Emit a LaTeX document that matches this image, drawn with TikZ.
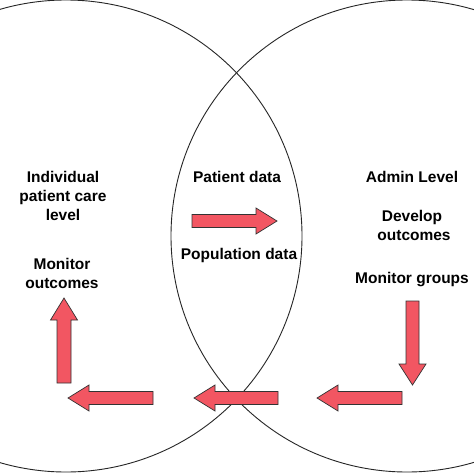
\documentclass[tikz,border=0pt]{standalone}
\usepackage{fontspec}
\setmainfont{Liberation Sans}
\begin{document}
\begin{tikzpicture}[x=1pt,y=-1pt,
  lbl/.style={anchor=base, inner sep=0pt, align=center, font=\bfseries\fontsize{15.5}{19}\selectfont},
  ring/.style={draw=black!85, line width=0.9pt},
  blockarrow/.style={fill=arrowred, draw=black!80, line width=0.7pt, line join=miter}]
\definecolor{arrowred}{RGB}{242,86,98}
\useasboundingbox (0,0) rectangle (474,474);
\clip (0,0) rectangle (474,474);
\fill[white] (0,0) rectangle (474,474);
% circles
\draw[ring] (66,236) circle[radius=236pt];
\draw[ring] (407,236) circle[radius=236pt];
% texts
\node[lbl] (ind) at (63,182.7) {Individual};
\node[lbl] (pc) at (63,201.7) {patient care};
\node[lbl] (lev) at (63,220.7) {level};
\node[lbl] (mon) at (62,269) {Monitor};
\node[lbl] (out) at (62,288) {outcomes};
\node[lbl] (pat) at (237,182.7) {Patient data};
\node[lbl] (pop) at (239,259.5) {Population data};
\node[lbl] (adm) at (412,182.7) {Admin Level};
\node[lbl] (dev) at (412,221.5) {Develop};
\node[lbl] (out2) at (414,240.5) {outcomes};
\node[lbl] (mg) at (412,283) {Monitor groups};
% center right arrow
\draw[blockarrow] (192,214.5) -- (256,214.5) -- (256,208) -- (277,221) -- (256,234) -- (256,227.5) -- (192,227.5) -- cycle;
% bottom left-pointing arrows
\draw[blockarrow] (153,391.5) -- (89,391.5) -- (89,385) -- (68,398) -- (89,411) -- (89,404.5) -- (153,404.5) -- cycle;
\draw[blockarrow] (278,391.5) -- (215,391.5) -- (215,385) -- (194,398) -- (215,411) -- (215,404.5) -- (278,404.5) -- cycle;
\draw[blockarrow] (402,391.5) -- (338,391.5) -- (338,385) -- (317,398) -- (338,411) -- (338,404.5) -- (402,404.5) -- cycle;
% up arrow
\draw[blockarrow] (57,383) -- (57,320) -- (50.5,320) -- (64,298) -- (77.5,320) -- (71,320) -- (71,383) -- cycle;
% down arrow
\draw[blockarrow] (406,301) -- (406,364) -- (399,364) -- (412.5,385) -- (426,364) -- (419,364) -- (419,301) -- cycle;
\end{tikzpicture}
\end{document}
